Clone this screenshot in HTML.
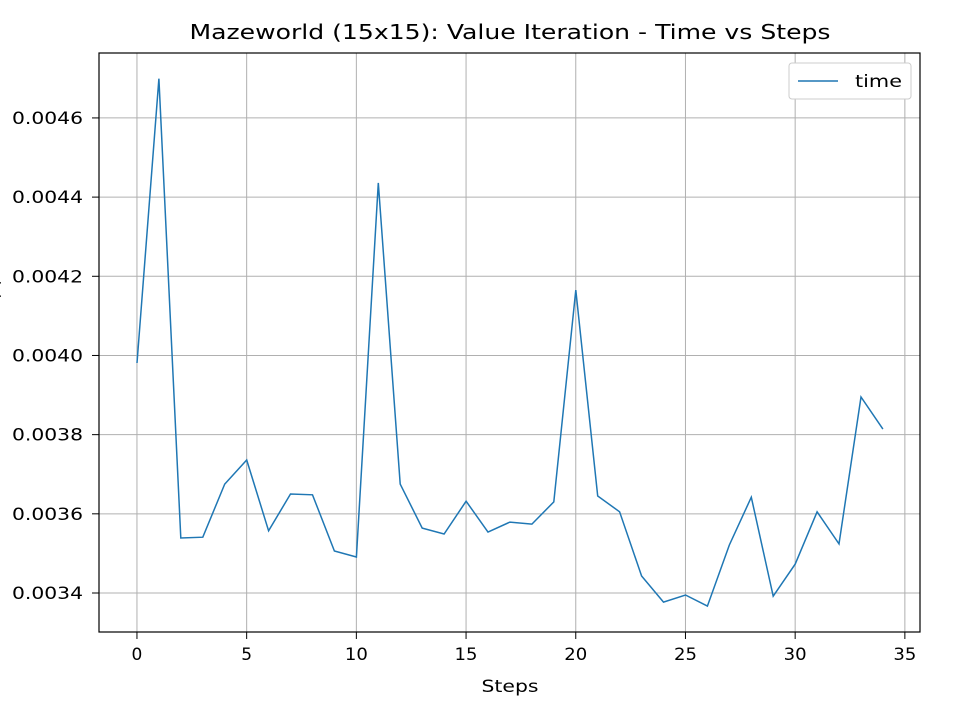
<!DOCTYPE html>
<html><head><meta charset="utf-8"><style>
body{margin:0;background:#fff;}
svg text{font-family:"DejaVu Sans","Liberation Sans",sans-serif;fill:#000;}
</style></head><body>
<svg id="chart" width="960" height="720">
<text x="510" y="39" font-size="20" text-anchor="middle" textLength="641" lengthAdjust="spacingAndGlyphs">Mazeworld (15x15): Value Iteration - Time vs Steps</text>
<g id="grid"></g>
<g id="xticks"></g>
<g id="yticks"></g>
<path id="series" fill="none" stroke="#1f77b4" stroke-width="1.5"></path>
<rect x="99" y="53" width="821" height="579" fill="none" stroke="#000" stroke-width="1.2"/>
<text x="510" y="692" font-size="17" text-anchor="middle" textLength="57" lengthAdjust="spacingAndGlyphs">Steps</text>
<text transform="translate(-1,313) rotate(-90)" font-size="17" text-anchor="middle">Time (s)</text>
<g>
<rect x="789" y="63" width="122" height="36" rx="3" fill="#fff" stroke="#ccc"/>
<line x1="798" y1="81" x2="838" y2="81" stroke="#1f77b4" stroke-width="1.5"/>
<text x="855" y="87" font-size="17" textLength="47" lengthAdjust="spacingAndGlyphs">time</text>
</g>
</svg>
<script>
const steps=[0,1,2,3,4,5,6,7,8,9,10,11,12,13,14,15,16,17,18,19,20,21,22,23,24,25,26,27,28,29,30,31,32,33,34];
const times=[0.003981,0.004699,0.003539,0.003541,0.003675,0.003736,0.003557,0.003650,0.003648,0.003506,0.003491,0.004436,0.003675,0.003564,0.003549,0.003632,0.003554,0.003579,0.003574,0.003630,0.004165,0.003645,0.003605,0.003443,0.003377,0.003395,0.003367,0.003521,0.003642,0.003392,0.003473,0.003605,0.003524,0.003895,0.003814];
const xTicks=[0,5,10,15,20,25,30,35];
const yTicks=[0.0034,0.0036,0.0038,0.0040,0.0042,0.0044,0.0046];
const L=99,R=920,T=53,B=632,x0=-1.73,x1=35.69,y0=0.0033015,y1=0.004764;
const X=v=>L+(v-x0)/(x1-x0)*(R-L);
const Y=v=>B-(v-y0)/(y1-y0)*(B-T);
const NS="http://www.w3.org/2000/svg";
function mk(tag,attrs,parent){const e=document.createElementNS(NS,tag);for(const k in attrs)e.setAttribute(k,attrs[k]);parent.appendChild(e);return e;}
const grid=document.getElementById('grid'),gx=document.getElementById('xticks'),gy=document.getElementById('yticks');
xTicks.forEach(t=>{const x=X(t);
const g=mk('line',{x1:x,x2:x,y1:T,y2:B,stroke:'#b0b0b0','stroke-width':1},grid);


const tk=mk('line',{x1:x,x2:x,y1:B,y2:B+7,stroke:'#000'},gx);


const attrs={x:x,y:B+28,'font-size':17,'text-anchor':'middle'};
if(String(t).length>1){attrs.textLength=23;attrs.lengthAdjust='spacingAndGlyphs';}
const tx=mk('text',attrs,gx);tx.textContent=t;

});
yTicks.forEach(t=>{const y=Y(t);
const g=mk('line',{x1:L,x2:R,y1:y,y2:y,stroke:'#b0b0b0','stroke-width':1},grid);


const tk=mk('line',{x1:L-7,x2:L,y1:y,y2:y,stroke:'#000'},gy);


const tx=mk('text',{x:L-16,y:y+6,'font-size':17,'text-anchor':'end',textLength:71,lengthAdjust:'spacingAndGlyphs'},gy);tx.textContent=t.toFixed(4);

});
document.getElementById('series').setAttribute('d',steps.map((s,i)=>(i?'L':'M')+X(s).toFixed(1)+' '+Y(times[i]).toFixed(1)).join(' '));
</script>
</body></html>
